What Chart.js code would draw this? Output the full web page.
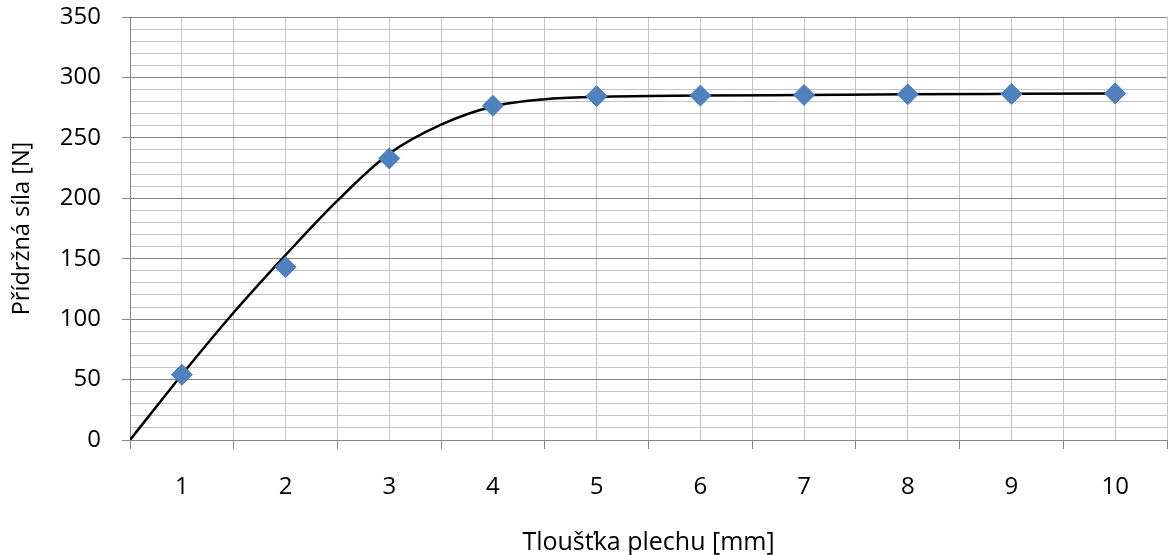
<!DOCTYPE html>
<html><head><meta charset="utf-8">
<script src="https://cdn.jsdelivr.net/npm/chart.js@4/dist/chart.umd.min.js"></script>
<style>html,body{margin:0;padding:0;background:#fff}#wrap{width:1168px;height:555px}</style>
</head><body><div id="wrap"><canvas id="c" width="1168" height="555"></canvas></div>
<script>
// Measured points (blue diamonds)
const thickness = [1, 2, 3, 4, 5, 6, 7, 8, 9, 10];
const force = [54, 143, 233, 276.5, 284.5, 285, 285.5, 286, 286.3, 286.8];
// Smooth black curve
const curveX = [0.5, 1, 1.5, 2, 2.5, 3, 3.5, 4, 4.5, 5, 5.5, 6, 7, 8, 9, 10];
const curveY = [0, 54, 105.5, 153, 198, 237, 261, 276, 282, 284, 284.6, 285, 285.5, 286, 286.4, 286.8];
const xTitle = 'Tloušťka plechu [mm]';
const yTitle = 'Přídržná síla [N]';

const FONT = {family: '"Open Sans", sans-serif', size: 24};
const X_TITLE_FONT = {family: '"Open Sans", sans-serif', size: 25, lineHeight: 1.0};
const Y_TITLE_FONT = {family: '"Open Sans", sans-serif', size: 23.5, lineHeight: 1.0};
const MAJOR = '#868686', MINOR = '#c4c4c4', NONE = 'rgba(0,0,0,0)';

new Chart(document.getElementById('c'), {
  type: 'scatter',
  data: {
    datasets: [
      {
        data: thickness.map((x, i) => ({x, y: force[i]})),
        showLine: false,
        pointStyle: 'rectRot',
        pointRadius: 10.5,
        pointBackgroundColor: '#4F81BD',
        pointBorderColor: '#4F81BD',
        pointBorderWidth: 1
      },
      {
        data: curveX.map((x, i) => ({x, y: curveY[i]})),
        showLine: true,
        pointRadius: 0,
        borderColor: '#000000',
        borderWidth: 2.5,
        cubicInterpolationMode: 'monotone',
        fill: false
      }
    ]
  },
  options: {
    responsive: false,
    animation: false,
    events: [],
    layout: {autoPadding: false, padding: {top: 17, right: 1, left: 0, bottom: 0}},
    plugins: {legend: {display: false}, tooltip: {enabled: false}},
    scales: {
      x: {
        type: 'linear', min: 0.5, max: 10.5,
        afterFit: s => { s.height = 115; s.paddingLeft = 0; s.paddingRight = 0; },
        ticks: {
          stepSize: 0.5, autoSkip: false, maxRotation: 0, padding: 24,
          color: '#000', font: FONT,
          callback: v => Number.isInteger(v) ? String(v) : ''
        },
        grid: {
          color: MINOR, lineWidth: 1, tickLength: 9,
          tickColor: c => (c.tick && Number.isInteger(c.tick.value)) ? NONE : MAJOR
        },
        border: {color: MAJOR, width: 1},
        title: {display: true, text: xTitle, color: '#000', font: X_TITLE_FONT, padding: {top: 0, bottom: 0}}
      },
      y: {
        type: 'linear', min: 0, max: 350,
        afterFit: s => { s.width = 130; s.paddingTop = 0; s.paddingBottom = 0; },
        ticks: {
          stepSize: 10, autoSkip: false, padding: 21,
          color: '#000', font: FONT,
          callback: v => (v % 50 === 0) ? String(v) : ''
        },
        grid: {
          lineWidth: 1, tickLength: 8,
          color: c => (c.tick && c.tick.value % 50 === 0) ? MAJOR : MINOR,
          tickColor: c => (c.tick && c.tick.value % 50 === 0) ? MAJOR : NONE
        },
        border: {color: MAJOR, width: 1},
        title: {display: true, text: yTitle, color: '#000', font: Y_TITLE_FONT, padding: {top: 11, bottom: 0}}
      }
    }
  }
});
</script>
</body></html>
